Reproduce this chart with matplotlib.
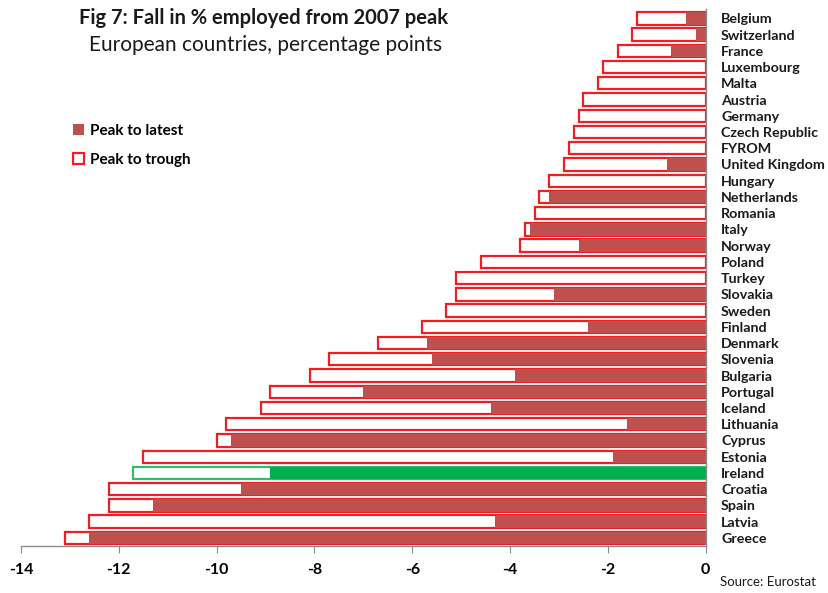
import matplotlib
matplotlib.use("Agg")
import matplotlib.pyplot as plt
import numpy as np
from matplotlib.patches import Patch

plt.rcParams["font.family"] = ["Lato", "DejaVu Sans"]

# Fall in % employed from 2007 peak, percentage points (bottom to top)
countries = [
    "Greece", "Latvia", "Spain", "Croatia", "Ireland", "Estonia", "Cyprus",
    "Lithuania", "Iceland", "Portugal", "Bulgaria", "Slovenia", "Denmark",
    "Finland", "Sweden", "Slovakia", "Turkey", "Poland", "Norway", "Italy",
    "Romania", "Netherlands", "Hungary", "United Kingdom", "FYROM",
    "Czech Republic", "Germany", "Austria", "Malta", "Luxembourg", "France",
    "Switzerland", "Belgium",
]
peak_to_trough = [
    -13.1, -12.6, -12.2, -12.2, -11.7, -11.5, -10.0,
    -9.8, -9.1, -8.9, -8.1, -7.7, -6.7,
    -5.8, -5.3, -5.1, -5.1, -4.6, -3.8, -3.7,
    -3.5, -3.4, -3.2, -2.9, -2.8,
    -2.7, -2.6, -2.5, -2.2, -2.1, -1.8,
    -1.5, -1.4,
]
peak_to_latest = [
    -12.6, -4.3, -11.3, -9.5, -8.9, -1.9, -9.7,
    -1.6, -4.4, -7.0, -3.9, -5.6, -5.7,
    -2.4, 0.0, -3.1, 0.0, 0.0, -2.6, -3.6,
    0.0, -3.2, 0.0, -0.8, 0.0,
    0.0, 0.0, 0.0, 0.0, 0.0, -0.7,
    -0.2, -0.4,
]
xticks = [-14, -12, -10, -8, -6, -4, -2, 0]

fill_red = "#C0504D"
edge_red = "#F01E23"
green = "#00B050"
edge_green = "#2DBE6E"
grey = "#8C8C8C"

y = np.arange(len(countries))
fills = [green if c == "Ireland" else fill_red for c in countries]
edges = [edge_green if c == "Ireland" else edge_red for c in countries]

fig = plt.figure(figsize=(8.29, 5.93), dpi=100)
ax = fig.add_axes([0.0253, 0.0793, 0.826, 0.9062])

ax.barh(y, peak_to_trough, height=0.76, color="white", edgecolor=edges, linewidth=1.6)
ax.barh(y, peak_to_latest, height=0.76, color=fills, edgecolor="none")

ax.set_xlim(-14, 0)
ax.set_ylim(-0.5, 32.6)
ax.set_xticks(xticks)
ax.set_xticklabels([str(t) for t in xticks], fontsize=11.5, fontweight="bold")
ax.tick_params(axis="x", direction="out", length=5, color=grey, pad=7)

ax.yaxis.tick_right()
ax.set_yticks(y)
ax.set_yticklabels(countries, fontsize=10.3, fontweight="bold", color="#1a1a1a")
ax.tick_params(axis="y", length=0, pad=11)

for side in ("top", "left"):
    ax.spines[side].set_visible(False)
for side in ("bottom", "right"):
    ax.spines[side].set_color(grey)
    ax.spines[side].set_linewidth(1.0)

fig.text(0.318, 0.970, "Fig 7: Fall in % employed from 2007 peak", fontsize=14.5,
         fontweight="bold", ha="center", va="center", color="#1a1a1a")
fig.text(0.320, 0.924, "European countries, percentage points", fontsize=15,
         ha="center", va="center", color="#1a1a1a")

handles = [
    Patch(facecolor=fill_red, edgecolor="none", label="Peak to latest"),
    Patch(facecolor="white", edgecolor=edge_red, linewidth=1.6, label="Peak to trough"),
]
fig.legend(handles=handles, loc="upper left", bbox_to_anchor=(0.071, 0.814),
           frameon=False, prop={"size": 11, "weight": "bold"},
           handlelength=0.75, handleheight=0.75, handletextpad=0.4, labelspacing=0.95)

fig.text(0.868, 0.019, "Source: Eurostat", fontsize=9.5, ha="left", va="center",
         color="#1a1a1a")

fig.savefig("out.png", dpi=100)
